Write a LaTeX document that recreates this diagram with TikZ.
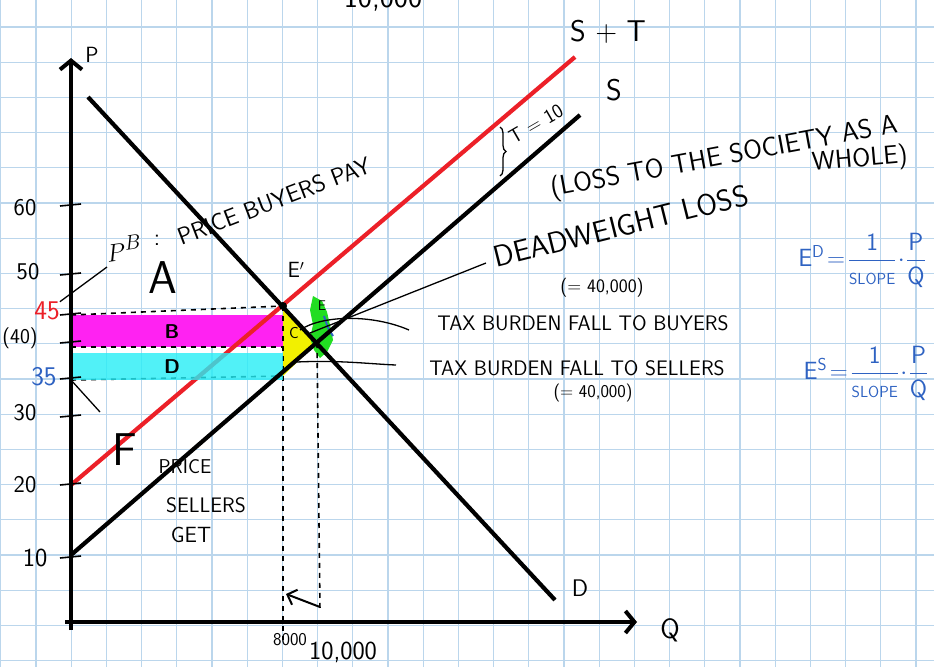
\documentclass[tikz,border=0pt]{standalone}
\usepackage{amsmath}
\usetikzlibrary{arrows.meta,decorations.pathreplacing}
\definecolor{paper}{HTML}{BBD6EC}
\definecolor{taxred}{HTML}{EC2028}
\definecolor{hlmag}{HTML}{FF22F2}
\definecolor{hlcyan}{HTML}{26EEF6}
\definecolor{hlyel}{HTML}{F2F000}
\definecolor{hlgrn}{HTML}{22DD22}
\definecolor{bink}{HTML}{2E62C2}
\tikzset{sq/.style={draw=paper,line width=1.2pt},
  axis/.style={line width=4.5pt,-{Straight Barb[length=9pt,width=22pt,line width=4pt]}},
  crv/.style={line width=4.2pt},
  ptr/.style={line width=1.3pt},
  guide/.style={line width=1.6pt,dash pattern=on 5pt off 5pt},
  hw/.style={inner sep=0pt,font=\sffamily\fontsize{#1}{#1}\selectfont},
  hw/.default=16,
  ptick/.style={line width=1.6pt}}
\newcommand{\elast}[1]{$\mathsf{E}^{\mathsf{#1}}\!=\!\dfrac{\mathsf{1}}{\text{\fontsize{16}{16}\selectfont SLOPE}}\!\cdot\!\dfrac{\mathsf{P}}{\mathsf{Q}}$}

\begin{document}
\begin{tikzpicture}[x=1pt,y=-1pt]
\useasboundingbox (0,0) rectangle (934,667);
\fill[white] (0,0) rectangle (934,667);
\foreach \k in {0,...,26}{\draw[sq] ({0.7+35.2*\k},0) -- ++(0,667);}
\foreach \k in {0,...,19}{\draw[sq] (0,{-8.2+35.2*\k}) -- ++(934,0);}
\coordinate (O) at (71,622);
\coordinate (Ep) at (283,306);
\coordinate (E) at (317,343);
\coordinate (Es) at (283,376);
\coordinate (p45) at (71,315);
\coordinate (p40) at (71,347);
\coordinate (p35) at (71,380);
\fill[hlmag] (72,315) rectangle (283,347);
\fill[hlyel] (Ep) -- (E) -- (Es) -- cycle;
\fill[hlgrn] (313,296) -- (322,301) -- (327,312) -- (330,325) -- (333,340) -- (327,352)
  -- (320,358) -- (314,350) -- (310,338) -- (313,325) -- (310,310) -- cycle;
\draw[bink,line width=2pt] (324,316) -- (328,328) -- (333,336);
\draw[guide] (p45) -- (Ep);
\draw[guide] (p40) -- (283,347);
\draw[guide] (p35) -- (Es);
\draw[guide] (Ep) -- (283,640);
\draw[guide] (E) -- (320,612);
\draw[crv,taxred] (71,485) -- (575,57);
\fill[hlcyan,opacity=.8] (72,353) rectangle (283,380);
\draw[crv] (88,97) -- (555,600);
\draw[crv] (71,555) -- (580,115);
\draw[axis] (O) ++(0,8) -- (71,58);
\draw[axis] (65,622) -- (637,622);
\foreach \y in {206,275,315,343,379,417,485,558}{\draw[ptick] (60,\y) -- (81,\y-2);}
\fill (Ep) circle (4pt);
\node[hw=22] (pl) at (92,55) {P};
\node[hw=28] (ql) at (670,630) {Q};
\node[hw=30] (st) at (608,32) {S + T};
\node[hw=30] (sl) at (614,90) {S};
\node[hw=24] (dl) at (580,588) {D};
\node[hw=24] (n60) at (25,208) {60};
\node[hw=24] (n50) at (28,272) {50};
\node[hw=27,text=taxred] (n45) at (47,311) {45};
\node[hw=21] (n40) at (20,338) {(40)};
\node[hw=27,text=bink] (n35) at (44,377) {35};
\node[hw=24] (n30) at (25,413) {30};
\node[hw=24] (n20) at (25,485) {20};
\node[hw=26] (n10) at (35,558) {10};
\node[hw=30,rotate=8] (pb) at (124,248) {$P^{B}$};
\node[hw=24] (colon) at (157,240) {:};
\node[hw=24,rotate=21] (pbtxt) at (274,201) {PRICE BUYERS PAY};
\draw[ptr] (107,267) -- (n45.north east);
\node[hw=46] (la) at (163,278) {A};
\node[hw=22] (lep) at (296,270) {E$'$};
\node[hw=20] (lb) at (172,332) {\bfseries B};
\node[hw=20] (ld) at (172,367) {\bfseries D};
\node[hw=16] (lc) at (294,333) {C};
\node[hw=14] (le) at (322,306) {E};
\node[hw=46] (lf) at (125,450) {F};
\node[hw=20] (sg1) at (185,467) {PRICE};
\node[hw=21] (sg2) at (206,505) {SELLERS};
\node[hw=22] (sg3) at (191,535) {GET};
\coordinate (sgend) at (100,412);
\draw[ptr] (p35) -- (sgend);
\draw[decorate,decoration={brace,amplitude=6pt},line width=1.3pt] (500,127) -- (500,176);
\node[hw=20,rotate=30] (tax) at (536,124) {T = 10};
\node[hw=27,rotate=10.5] (loss1) at (724,158) {(LOSS TO THE SOCIETY AS A};
\node[hw=26,rotate=5] (loss2) at (860,160) {WHOLE)};
\node[hw=30,rotate=14] (dwl) at (621,226) {DEADWEIGHT LOSS};
\draw[ptr] (486,263) -- (310,333);
\node[hw=19] (dwlv) at (602,288) {(= 40,000)};
\node[hw=21] (buy) at (583,323) {TAX BURDEN FALL TO BUYERS};
\draw[ptr] (300,330) .. controls (322,315) and (372,314) .. (409,330);
\node[hw=21] (sell) at (577,368) {TAX BURDEN FALL TO SELLERS};
\draw[ptr] (297,362) .. controls (340,360) and (370,364) .. (396,365);
\node[hw=18] (sellv) at (593,393) {(= 40,000)};
\draw[ptr,line width=2pt,-{Straight Barb[length=8pt,width=16pt]}] (320,607) .. controls (305,601) .. (286,594);
\node[hw=18] (q8) at (290,640) {8000};
\node[hw=26] (q10) at (343,652) {10,000};
\node[hw=30,anchor=base] (top10) at (383,7) {10,000};
\node[hw=24,text=bink] (ed) at (862,260) {\elast{D}};
\node[hw=24,text=bink] (es) at (866,373) {\elast{S}};
\end{tikzpicture}
\end{document}
